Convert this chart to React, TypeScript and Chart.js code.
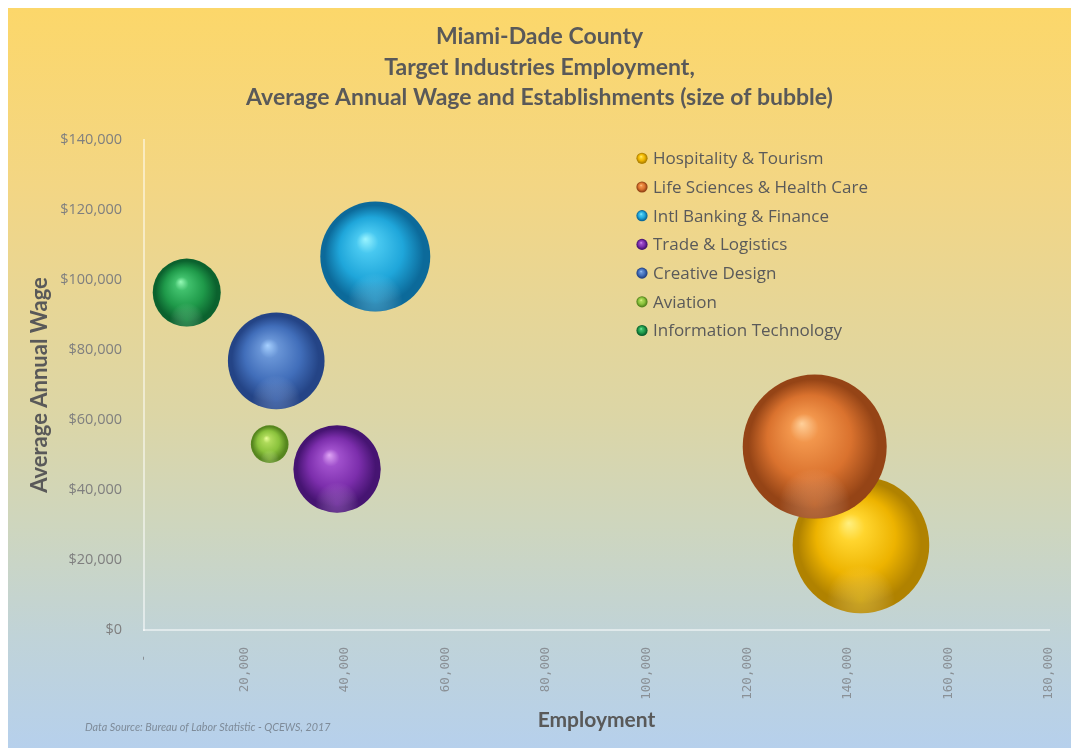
import React, { useEffect, useRef } from "react";
import { Chart, registerables } from "chart.js";

Chart.register(...registerables);

// ---- Data ----
const industries = [
  "Hospitality & Tourism",
  "Life Sciences & Health Care",
  "Intl Banking & Finance",
  "Trade & Logistics",
  "Creative Design",
  "Aviation",
  "Information Technology",
];
const employment = [142600, 133400, 46000, 38400, 26300, 25000, 8500];
const avgWage = [24300, 52400, 106700, 46000, 76900, 53100, 96400];
const establishments = [8550, 9500, 5540, 3500, 4280, 650, 2120];

const xTickValues = [0, 20000, 40000, 60000, 80000, 100000, 120000, 140000, 160000, 180000];
const yTickValues = [0, 20000, 40000, 60000, 80000, 100000, 120000, 140000];

const titleLines = [
  "Miami-Dade County",
  "Target Industries Employment,",
  "Average Annual Wage and Establishments (size of bubble)",
];
const xTitle = "Employment";
const yTitle = "Average Annual Wage";
const sourceNote = "Data Source: Bureau of Labor Statistic - QCEWS, 2017";

// ---- Styles ----
const sphereColors = [
  { hi: "#FFF080", light: "#FFD52E", base: "#EDB300", dark: "#B08200", rim: "rgba(255,230,90,0.35)" },
  { hi: "#FFD09A", light: "#F2964C", base: "#DA722E", dark: "#954416", rim: "rgba(255,170,110,0.35)" },
  { hi: "#9AF4FF", light: "#48C8F0", base: "#1FA6DA", dark: "#0C6A9A", rim: "rgba(120,220,255,0.35)" },
  { hi: "#E0A6F6", light: "#A050CC", base: "#7C2EAC", dark: "#461472", rim: "rgba(200,130,240,0.35)" },
  { hi: "#A6D0FF", light: "#6894D6", base: "#416EBA", dark: "#244486", rim: "rgba(130,170,240,0.35)" },
  { hi: "#EAFF9A", light: "#AEDA5A", base: "#8AC23C", dark: "#56861E", rim: "rgba(200,240,120,0.35)" },
  { hi: "#96FAB6", light: "#40C06C", base: "#1F9A4A", dark: "#0B622E", rim: "rgba(100,220,140,0.35)" },
];
const R_MAX = 72;
const E_MAX = Math.max(...establishments);
const bubbleRadius = (e: number) => R_MAX * Math.sqrt(e / E_MAX);

function sphereGradient(c2d: CanvasRenderingContext2D, cx: number, cy: number, r: number, c: any) {
  const g = c2d.createRadialGradient(cx - 0.18 * r, cy - 0.32 * r, 0, cx, cy, r);
  g.addColorStop(0, c.hi);
  g.addColorStop(0.2, c.light);
  g.addColorStop(0.58, c.base);
  g.addColorStop(0.9, c.dark);
  g.addColorStop(1, c.dark);
  return g;
}

const FONT = "'Open Sans', sans-serif";
const TFONT = "Lato, 'Open Sans', sans-serif";

const overlayPlugin = {
  id: "overlay",
  afterDatasetsDraw(chart: any) {
    const c2d: CanvasRenderingContext2D = chart.ctx;
    const metas = chart.getSortedVisibleDatasetMetas().slice().reverse();
    metas.forEach((meta: any) => {
      const c = sphereColors[meta.index];
      meta.data.forEach((el: any) => {
        const r = el.options.radius;
        const cx = el.x, cy = el.y;
        c2d.save();
        c2d.beginPath();
        c2d.arc(cx, cy, r, 0, Math.PI * 2);
        c2d.clip();
        const g = c2d.createRadialGradient(cx, cy + 0.8 * r, 0, cx, cy + 0.8 * r, 0.5 * r);
        g.addColorStop(0, c.rim);
        g.addColorStop(1, "rgba(255,255,255,0)");
        c2d.fillStyle = g;
        c2d.fillRect(cx - r, cy - r, 2 * r, 2 * r);
        c2d.restore();
      });
    });
  },
  afterDraw(chart: any) {
    const c2d: CanvasRenderingContext2D = chart.ctx;
    const area = chart.chartArea;
    const lx = area.left + 498;
    const ly = area.top + 18.3;
    const step = 28.7;
    c2d.save();
    c2d.font = `17px ${FONT}`;
    c2d.textBaseline = "middle";
    c2d.textAlign = "left";
    industries.forEach((name, i) => {
      const y = ly + i * step;
      const r = 5.6;
      c2d.beginPath();
      c2d.arc(lx, y, r, 0, Math.PI * 2);
      c2d.fillStyle = sphereGradient(c2d, lx, y, r, sphereColors[i]);
      c2d.fill();
      c2d.fillStyle = "#5a5a5a";
      c2d.fillText(name, lx + 11, y + 1);
    });
    c2d.font = `italic 10.8px ${TFONT}`;
    c2d.fillStyle = "#7e8b99";
    c2d.fillText(sourceNote, 77, 720);
    c2d.restore();
  },
};

export default function App() {
  const canvasRef = useRef<HTMLCanvasElement | null>(null);

  useEffect(() => {
    if (!canvasRef.current) return;
    const datasets = industries.map((name, i) => ({
      label: name,
      data: [{ x: employment[i], y: avgWage[i], r: bubbleRadius(establishments[i]) }],
      order: i === 0 ? 1 : 0,
      borderWidth: 0,
      hoverBorderWidth: 0,
      backgroundColor: (ctx: any) => {
        const chart = ctx.chart;
        const raw = ctx.raw;
        if (!chart.chartArea || !raw) return sphereColors[i].base;
        const cx = chart.scales.x.getPixelForValue(raw.x);
        const cy = chart.scales.y.getPixelForValue(raw.y);
        return sphereGradient(chart.ctx, cx, cy, raw.r, sphereColors[i]);
      },
    }));

    const chart = new Chart(canvasRef.current, {
      type: "bubble",
      data: { datasets },
      plugins: [overlayPlugin],
      options: {
        animation: false,
        responsive: true,
        maintainAspectRatio: false,
        events: [],
        layout: { padding: 0, autoPadding: false },
        plugins: {
          legend: { display: false },
          tooltip: { enabled: false },
          title: {
            display: true,
            text: titleLines,
            color: "#595959",
            font: { family: TFONT, size: 23, weight: "bold", lineHeight: 1.326 },
            padding: { top: 13.75, bottom: 26.75 },
          },
        },
        scales: {
          x: {
            type: "linear",
            min: 0,
            max: 180000,
            afterBuildTicks: (s: any) => {
              s.ticks = xTickValues.map((v) => ({ value: v }));
            },
            afterFit: (s: any) => {
              s.height = 118;
              s.paddingRight = 22;
              s.paddingLeft = 0;
            },
            grid: { display: false, drawTicks: false },
            border: { display: true, color: "rgba(255,255,255,0.5)", width: 2 },
            ticks: {
              minRotation: 90,
              maxRotation: 90,
              padding: 17,
              color: "#8a9096",
              font: { family: "'DejaVu Sans Mono', monospace", size: 12.5 },
              callback: (v: any) => (v === 0 ? " - " : Number(v).toLocaleString("en-US")),
            },
            title: {
              display: true,
              text: xTitle,
              color: "#595959",
              font: { family: TFONT, size: 21, weight: "bold", lineHeight: 1.2 },
              padding: { top: 0, bottom: 15 },
            },
          },
          y: {
            type: "linear",
            min: 0,
            max: 140000,
            afterBuildTicks: (s: any) => {
              s.ticks = yTickValues.map((v) => ({ value: v }));
            },
            afterFit: (s: any) => {
              s.width = 136;
            },
            grid: { display: false, drawTicks: false },
            border: { display: true, color: "rgba(255,255,255,0.5)", width: 2 },
            ticks: {
              padding: 22,
              color: "#7f7f7f",
              font: { family: FONT, size: 14.5 },
              callback: (v: any) => "$" + Number(v).toLocaleString("en-US"),
            },
            title: {
              display: true,
              text: yTitle,
              color: "#595959",
              font: { family: TFONT, size: 22, weight: "bold", lineHeight: 1.2 },
              padding: { top: 18.8, bottom: 0 },
            },
          },
        },
      } as any,
    });
    return () => chart.destroy();
  }, []);

  return (
    <div
      style={{
        position: "fixed",
        left: 8,
        top: 8,
        width: 1063,
        height: 740,
        background:
          "linear-gradient(to bottom, #FCD76A 0%, #F3D684 24%, #E7D696 40%, #DCD6A6 55%, #CED6BE 70%, #C0D3D8 85%, #B6D0EC 100%)",
      }}
    >
      <canvas ref={canvasRef} />
    </div>
  );
}
